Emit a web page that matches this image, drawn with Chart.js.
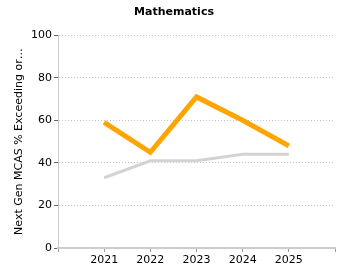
<!DOCTYPE html>
<html>
<head>
<meta charset="utf-8">
<script src="https://cdn.jsdelivr.net/npm/chart.js@4"></script>
<style>
  html, body { margin: 0; padding: 0; background: #fff; }
  #wrap { width: 350px; height: 280px; }
</style>
</head>
<body>
<div id="wrap"><canvas id="chart" width="350" height="280"></canvas></div>
<script>
// empty slots at both ends give the gap before 2021 and after 2025
var years = ["", "2021", "2022", "2023", "2024", "2025", ""];
var schoolValues = [null, 59, 45, 71, 60, 48, null];
var stateValues = [null, 33, 41, 41, 44, 44, null];
var yTicks = [0, 20, 40, 60, 80, 100];

var font = "'DejaVu Sans', Verdana, sans-serif";

new Chart(document.getElementById("chart"), {
    type: "line",
    data: {
        labels: years,
        datasets: [
            {
                label: "State",
                data: stateValues,
                borderColor: "#d3d3d3",
                borderWidth: 3,
                pointRadius: 0,
                tension: 0
            },
            {
                label: "School",
                data: schoolValues,
                borderColor: "#ffa500",
                borderWidth: 5,
                pointRadius: 0,
                tension: 0
            }
        ]
    },
    options: {
        responsive: false,
        animation: false,
        layout: { padding: { right: 15, top: 0, left: 13, bottom: 0 } },
        plugins: {
            legend: { display: false },
            tooltip: { enabled: false },
            title: {
                display: true,
                text: "Mathematics",
                color: "#000",
                font: { family: font, size: 11, weight: "bold" },
                padding: { top: 6, bottom: 16 }
            }
        },
        scales: {
            x: {
                type: "category",
                offset: false,
                grid: { drawOnChartArea: false, drawTicks: true, tickLength: 4, color: "#999" },
                border: { color: "#ccc", width: 2 },
                ticks: {
                    color: "#000",
                    font: { family: font, size: 11 },
                    maxRotation: 0,
                    autoSkip: false,
                    padding: 2
                },
                afterFit: function(scale) { scale.height = 32; }
            },
            y: {
                min: 0,
                max: 100,
                afterBuildTicks: function(scale) {
                    scale.ticks = yTicks.map(function(v) { return { value: v }; });
                },
                grid: {
                    color: "#c8c8c8",
                    tickColor: "#666",
                    tickLength: 4,
                    drawTicks: true
                },
                // dash here only dots the gridlines, the axis line stays solid
                border: { color: "#ccc", width: 1, dash: [1, 2] },
                ticks: {
                    color: "#000",
                    font: { family: font, size: 11 },
                    padding: 2
                },
                title: {
                    display: true,
                    text: "Next Gen MCAS % Exceeding or…",
                    color: "#000",
                    font: { family: font, size: 11 },
                    padding: { top: 0, bottom: 4 }
                },
                afterFit: function(scale) { scale.width = 45; }
            }
        }
    }
});
</script>
</body>
</html>
